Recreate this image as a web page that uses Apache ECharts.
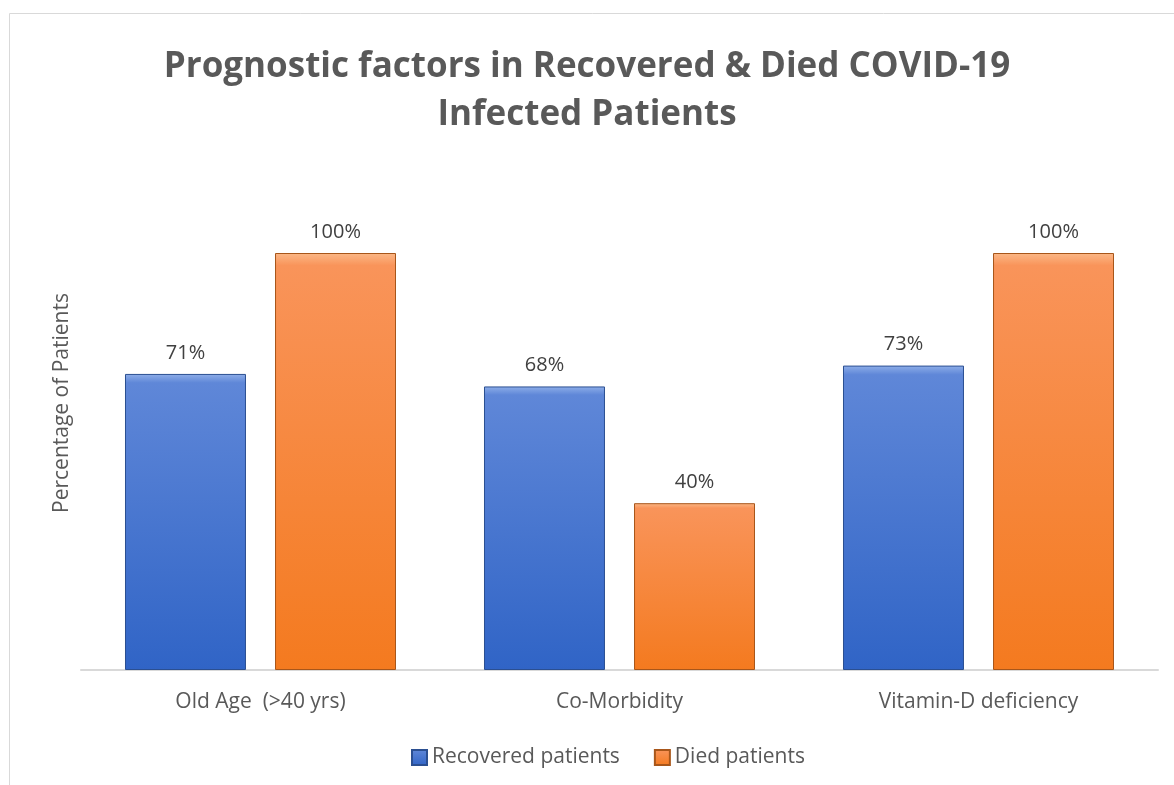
<!DOCTYPE html>
<html>
<head>
<meta charset="utf-8">
<script src="https://cdn.jsdelivr.net/npm/echarts@6/dist/echarts.min.js"></script>
<style>html,body{margin:0;padding:0;background:#fff;}#c{width:1174px;height:785px;}</style>
</head>
<body>
<div id="c"></div>
<script>
var categories = ['Old Age  (>40 yrs)', 'Co-Morbidity', 'Vitamin-D deficiency'];
var recovered = [71, 68, 73];
var died = [100, 40, 100];
var seriesNames = ['Recovered patients', 'Died patients'];

var chart = echarts.init(document.getElementById('c'));
var font = '"Open Sans", "Noto Sans", sans-serif';
function grad(top, mid, bot) {
  return new echarts.graphic.LinearGradient(0, 0, 0, 1, [
    {offset: 0, color: top}, {offset: 0.03, color: mid}, {offset: 1, color: bot}
  ]);
}
var blue = grad('#8eaee8', '#5f87d8', '#3064c6');
var orange = grad('#fbb887', '#f9945a', '#f47a1f');
chart.setOption({
  animation: false,
  title: {
    text: 'Prognostic factors in Recovered & Died COVID-19\nInfected Patients',
    left: 'center', top: 38,
    textStyle: {fontFamily: font, fontSize: 35, fontWeight: 'bold', color: '#595959', lineHeight: 48}
  },
  graphic: [
    {type: 'rect', shape: {x: 9.5, y: 13.5, width: 1200, height: 800}, style: {fill: 'none', stroke: '#d9d9d9', lineWidth: 1}, z: -10},
    {type: 'text', x: 62, y: 403, rotation: Math.PI / 2,
     style: {text: 'Percentage of Patients', align: 'center', verticalAlign: 'middle', fontSize: 21, fontFamily: font, fill: '#595959'}}
  ],
  legend: {
    data: seriesNames, bottom: 12, left: 406, itemGap: 34, itemWidth: 15, itemHeight: 15,
    icon: 'rect',
    textStyle: {fontFamily: font, fontSize: 21, color: '#595959'}
  },
  grid: {left: 81, right: 16, top: 253, bottom: 115},
  xAxis: {
    type: 'category', data: categories,
    axisLine: {lineStyle: {color: '#d9d9d9', width: 2}},
    axisTick: {show: false},
    axisLabel: {fontFamily: font, fontSize: 21, color: '#595959', margin: 22}
  },
  yAxis: {
    type: 'value', min: 0, max: 100,
    axisLabel: {show: false}, axisLine: {show: false}, axisTick: {show: false}, splitLine: {show: false}
  },
  series: [
    {name: seriesNames[0], type: 'bar', data: recovered, barWidth: '33.7%', barGap: '24%',
     itemStyle: {color: blue, borderColor: '#2b4f91', borderWidth: 1},
     label: {show: true, position: 'top', distance: 11, formatter: '{c}%', fontFamily: font, fontSize: 20, color: '#404040'}},
    {name: seriesNames[1], type: 'bar', data: died, barWidth: '33.7%',
     itemStyle: {color: orange, borderColor: '#a8561a', borderWidth: 1},
     label: {show: true, position: 'top', distance: 11, formatter: '{c}%', fontFamily: font, fontSize: 20, color: '#404040'}}
  ]
});
</script>
</body>
</html>
